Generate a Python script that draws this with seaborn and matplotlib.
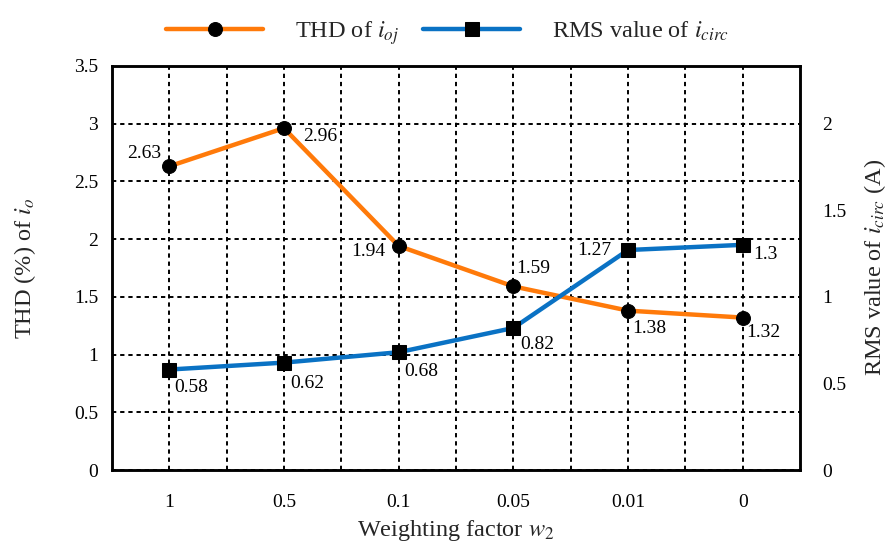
import numpy as np
import matplotlib
matplotlib.use("Agg")
import matplotlib.pyplot as plt
import seaborn as sns
import pandas as pd

# Weighting factor sweep and the two measured quantities
weights = ["1", "0.5", "0.1", "0.05", "0.01", "0"]
thd_io = [2.63, 2.96, 1.94, 1.59, 1.38, 1.32]        # THD (%) of i_oj
rms_icirc = [0.58, 0.62, 0.68, 0.82, 1.27, 1.3]      # RMS value of i_circ (A)

left_ticks = [0, 0.5, 1, 1.5, 2, 2.5, 3, 3.5]
right_ticks = [0, 0.5, 1, 1.5, 2]

sns.set_theme(style="white")
plt.rcParams["font.family"] = ["Liberation Serif", "DejaVu Serif"]
plt.rcParams["mathtext.fontset"] = "stix"

ORANGE = "#FF7A0A"
BLUE = "#0A72C4"
TICK_FS = 14
LABEL_FS = 17.5

df = pd.DataFrame({"pos": np.arange(len(weights)), "w": weights,
                   "thd": thd_io, "rms": rms_icirc})

fig = plt.figure(figsize=(8.95, 5.44), dpi=100)
ax = fig.add_axes([0.125, 0.136, 0.769, 0.743])
ax2 = ax.twinx()

sns.lineplot(data=df, x="pos", y="thd", ax=ax, color=ORANGE, lw=3.2,
             marker="o", markersize=10, markerfacecolor="black",
             markeredgecolor="black", label=r"THD of $i_{oj}$", legend=False,
             zorder=4)
sns.lineplot(data=df, x="pos", y="rms", ax=ax2, color=BLUE, lw=3.2,
             marker="s", markersize=10, markerfacecolor="black",
             markeredgecolor="black", label=r"RMS value of $i_{circ}$",
             legend=False, zorder=4)

# Axis ranges: the right scale is the left one divided by 1.5
ax.set_xlim(-0.5, len(weights) - 0.5)
ax.set_ylim(0, 3.5)
ax2.set_ylim(0, 3.5 / 1.5)

ax.set_xticks(df["pos"])
ax.set_xticklabels(weights)
ax.set_xticks(df["pos"][:-1] + 0.5, minor=True)
ax.set_yticks(left_ticks)
ax.set_yticklabels([f"{t:g}" for t in left_ticks])
ax2.set_yticks(right_ticks)
ax2.set_yticklabels([f"{t:g}" for t in right_ticks])

grid_kw = dict(color="black", linestyle=(0, (2.2, 2.0)), linewidth=1.4)
ax.grid(True, which="both", axis="x", **grid_kw)
ax.grid(True, which="major", axis="y", **grid_kw)
ax2.grid(False)
ax.set_axisbelow(True)

for a in (ax, ax2):
    for s in a.spines.values():
        s.set_color("black")
        s.set_linewidth(1.8)
    a.tick_params(axis="both", which="both", length=0, labelsize=TICK_FS,
                  colors="black")
ax.tick_params(axis="x", pad=17)
ax.tick_params(axis="y", pad=10)
ax2.tick_params(axis="y", pad=16)

ax.set_xlabel(r"Weighting factor $w_2$", fontsize=LABEL_FS, labelpad=5)
ax.set_ylabel(r"THD (%) of $i_o$", fontsize=LABEL_FS, labelpad=26)
ax2.set_ylabel(r"RMS value of $i_{circ}$ (A)", fontsize=LABEL_FS, labelpad=11)

# Value labels beside each marker
thd_off = [(-18, 9), (26, -6), (-22, -4), (14, 13), (15, -13), (15, -11)]
rms_off = [(16, -13), (17, -15), (16, -14), (17, -12), (-24, 0), (16, -7)]
for x, v, (dx, dy) in zip(df["pos"], thd_io, thd_off):
    ax.annotate(f"{v:g}", (x, v), xytext=(dx, dy), textcoords="offset points",
                ha="center", va="center", fontsize=TICK_FS, color="black")
for x, v, (dx, dy) in zip(df["pos"], rms_icirc, rms_off):
    ax2.annotate(f"{v:g}", (x, v), xytext=(dx, dy), textcoords="offset points",
                 ha="center", va="center", fontsize=TICK_FS, color="black")

h1, l1 = ax.get_legend_handles_labels()
h2, l2 = ax2.get_legend_handles_labels()
fig.legend(h1 + h2, l1 + l2, loc="upper center", bbox_to_anchor=(0.5, 1.005),
           ncol=2, frameon=False, fontsize=LABEL_FS, handlelength=4.0,
           columnspacing=1.0, handletextpad=1.3)

fig.savefig("out.png", dpi=100)
